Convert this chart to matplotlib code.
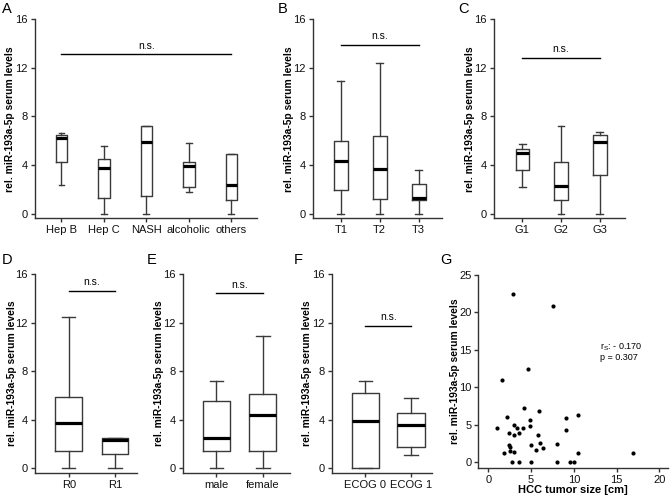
import matplotlib
matplotlib.use("Agg")
import matplotlib.pyplot as plt

plt.rcParams['font.family'] = ['Liberation Sans', 'DejaVu Sans']
plt.rcParams['mathtext.fontset'] = 'custom'
plt.rcParams['mathtext.rm'] = 'Liberation Sans'
plt.rcParams['mathtext.it'] = 'Liberation Sans:italic'

W, H = 671, 501
YLABEL = "rel. miR-193a-5p serum levels"

# ---------- data ----------
# Panel A: etiology
a_cats = ["Hep B", "Hep C", "NASH", "alcoholic", "others"]
a_whislo = [2.35, 0.0, 0.0, 1.8, 0.0]
a_q1 = [4.26, 1.29, 1.43, 2.2, 1.1]
a_med = [6.25, 3.77, 5.91, 3.9, 2.36]
a_q3 = [6.46, 4.5, 7.2, 4.26, 4.92]
a_whishi = [6.65, 5.55, 7.2, 5.8, 4.92]

# Panel B: T stage
b_cats = ["T1", "T2", "T3"]
b_whislo = [0.0, 0.0, 0.0]
b_q1 = [1.92, 1.24, 1.1]
b_med = [4.31, 3.68, 1.3]
b_q3 = [6.0, 6.4, 2.45]
b_whishi = [10.9, 12.42, 3.6]

# Panel C: grading
c_cats = ["G1", "G2", "G3"]
c_whislo = [2.2, 0.0, 0.0]
c_q1 = [3.57, 1.15, 3.16]
c_med = [4.97, 2.25, 5.9]
c_q3 = [5.36, 4.23, 6.46]
c_whishi = [5.77, 7.18, 6.7]

# Panel D: resection status
d_cats = ["R0", "R1"]
d_whislo = [0.0, 0.0]
d_q1 = [1.45, 1.15]
d_med = [3.75, 2.3]
d_q3 = [5.9, 2.47]
d_whishi = [12.43, 2.47]

# Panel E: sex
e_cats = ["male", "female"]
e_whislo = [0.0, 0.0]
e_q1 = [1.45, 1.45]
e_med = [2.47, 4.39]
e_q3 = [5.52, 6.07]
e_whishi = [7.19, 10.92]

# Panel F: ECOG
f_cats = ["ECOG 0", "ECOG 1"]
f_whislo = [0.0, 1.08]
f_q1 = [0.0, 1.77]
f_med = [3.86, 3.59]
f_q3 = [6.21, 4.52]
f_whishi = [7.17, 5.79]

# significance bars (y level)
sig_levels = {"A": 13.11, "B": 13.88, "C": 12.83, "D": 14.63, "E": 14.4, "F": 11.72}

# Panel G: scatter tumor size vs serum levels
g_size = [2.85, 7.56, 4.6, 1.56, 4.17, 5.93, 2.18, 4.83, 1.01, 3.04, 3.39, 4.05,
          4.83, 2.38, 3.04, 3.59, 5.85, 2.38, 2.57, 2.57, 1.83, 3.04, 5.03, 6.04,
          5.61, 6.43, 2.77, 3.59, 4.95, 8.03, 8.03, 9.08, 9.08, 9.5, 10.06, 10.53,
          10.53, 16.88]
g_level = [22.4, 20.8, 12.4, 11.0, 7.24, 6.76, 5.96, 5.56, 4.53, 5.0, 4.6, 4.58,
           4.76, 3.9, 3.6, 3.87, 3.6, 2.27, 2.0, 1.51, 1.24, 1.38, 2.27, 2.53,
           1.6, 1.87, 0.0, 0.0, 0.0, 0.0, 2.44, 5.82, 4.31, 0.0, 0.0, 6.3,
           1.24, 1.2]

fig = plt.figure(figsize=(W / 100, H / 100), dpi=100)


def make_ax(l, r, t, b):
    return fig.add_axes([l / W, 1 - b / H, (r - l) / W, (b - t) / H])


def style(ax):
    for s in ("top", "right"):
        ax.spines[s].set_visible(False)
    for s in ("left", "bottom"):
        ax.spines[s].set_color("#333333")
        ax.spines[s].set_linewidth(1.0)
    ax.tick_params(direction="out", length=3, width=1.0, color="#333333",
                   labelsize=8, pad=2, labelcolor="#111111")


EC = "#3a3a3a"
YL_FS = 7.4


def box_panel(letter, rect, xlim, cats, wlo, q1, med, q3, whi, width,
              ylab_x, letter_xy):
    l, r, t, b = rect
    ax = make_ax(l, r, t, b)
    stats = []
    for i in range(len(cats)):
        stats.append(dict(whislo=wlo[i], q1=q1[i], med=med[i], q3=q3[i],
                          whishi=whi[i], fliers=[], label=cats[i]))
    pos = list(range(1, len(cats) + 1))
    ax.bxp(stats, positions=pos, widths=width, showfliers=False,
           boxprops=dict(color=EC, linewidth=1.0),
           whiskerprops=dict(color=EC, linewidth=1.0),
           capprops=dict(color=EC, linewidth=1.0),
           medianprops=dict(color="black", linewidth=2.3, solid_capstyle="butt"))
    ax.set_xlim(*xlim)
    ax.set_ylim(-0.38, 16)
    ax.set_yticks([0, 4, 8, 12, 16])
    ax.set_xticks(pos)
    ax.set_xticklabels(cats)
    style(ax)
    ax.set_ylabel(YLABEL, fontsize=YL_FS, fontweight="bold", va="center")
    ax.yaxis.set_label_coords(ylab_x / W, 1 - ((t + b) / 2) / H,
                              transform=fig.transFigure)
    y = sig_levels[letter]
    ax.plot([pos[0], pos[-1]], [y, y], color="black", linewidth=1.0)
    ax.text((pos[0] + pos[-1]) / 2, y + 0.3, "n.s.", ha="center", va="bottom",
            fontsize=7.5)
    fig.text(letter_xy[0] / W, 1 - letter_xy[1] / H, letter, fontsize=10.5,
             ha="left", va="top")
    return ax


box_panel("A", (34.5, 256.7, 19.3, 218.3), (0.365, 5.6), a_cats,
          a_whislo, a_q1, a_med, a_q3, a_whishi, 0.27, 10.5, (2, 2))
box_panel("B", (312.7, 441.7, 19.3, 218.3), (0.28, 3.59), b_cats,
          b_whislo, b_q1, b_med, b_q3, b_whishi, 0.35, 289, (278, 2))
box_panel("C", (494, 625, 19.3, 218.3), (0.27, 3.65), c_cats,
          c_whislo, c_q1, c_med, c_q3, c_whishi, 0.35, 469.5, (458, 2))
box_panel("D", (35, 136.7, 274, 472.7), (0.27, 2.47), d_cats,
          d_whislo, d_q1, d_med, d_q3, d_whishi, 0.58, 12, (2, 253))
box_panel("E", (182.7, 290, 274, 472.7), (0.28, 2.58), e_cats,
          e_whislo, e_q1, e_med, e_q3, e_whishi, 0.58, 158.5, (147, 253))
box_panel("F", (331.7, 431.7, 274, 472.7), (0.26, 2.45), f_cats,
          f_whislo, f_q1, f_med, f_q3, f_whishi, 0.6, 307, (294, 253))

# Panel G
axg = make_ax(478.3, 668.3, 275, 468.3)
axg.scatter(g_size, g_level, s=9, color="black", linewidths=0)
axg.set_xlim(-1.17, 21.05)
axg.set_ylim(-0.84, 25)
axg.set_xticks([0, 5, 10, 15, 20])
axg.set_yticks([0, 5, 10, 15, 20, 25])
style(axg)
axg.set_ylabel(YLABEL, fontsize=YL_FS, fontweight="bold", va="center")
axg.yaxis.set_label_coords(454.5 / W, 1 - ((275 + 468.3) / 2) / H,
                           transform=fig.transFigure)
axg.set_xlabel("HCC tumor size [cm]", fontsize=8, fontweight="bold", labelpad=0)
axg.text(13.1, 15.4, r"r$_\mathrm{S}$: - 0.170", fontsize=6.5, ha="left",
         va="center")
axg.text(13.1, 14.0, "p = 0.307", fontsize=6.5, ha="left", va="center")
fig.text(440 / W, 1 - 253 / H, "G", fontsize=10.5, ha="left", va="top")

fig.savefig("out.png", dpi=100)
